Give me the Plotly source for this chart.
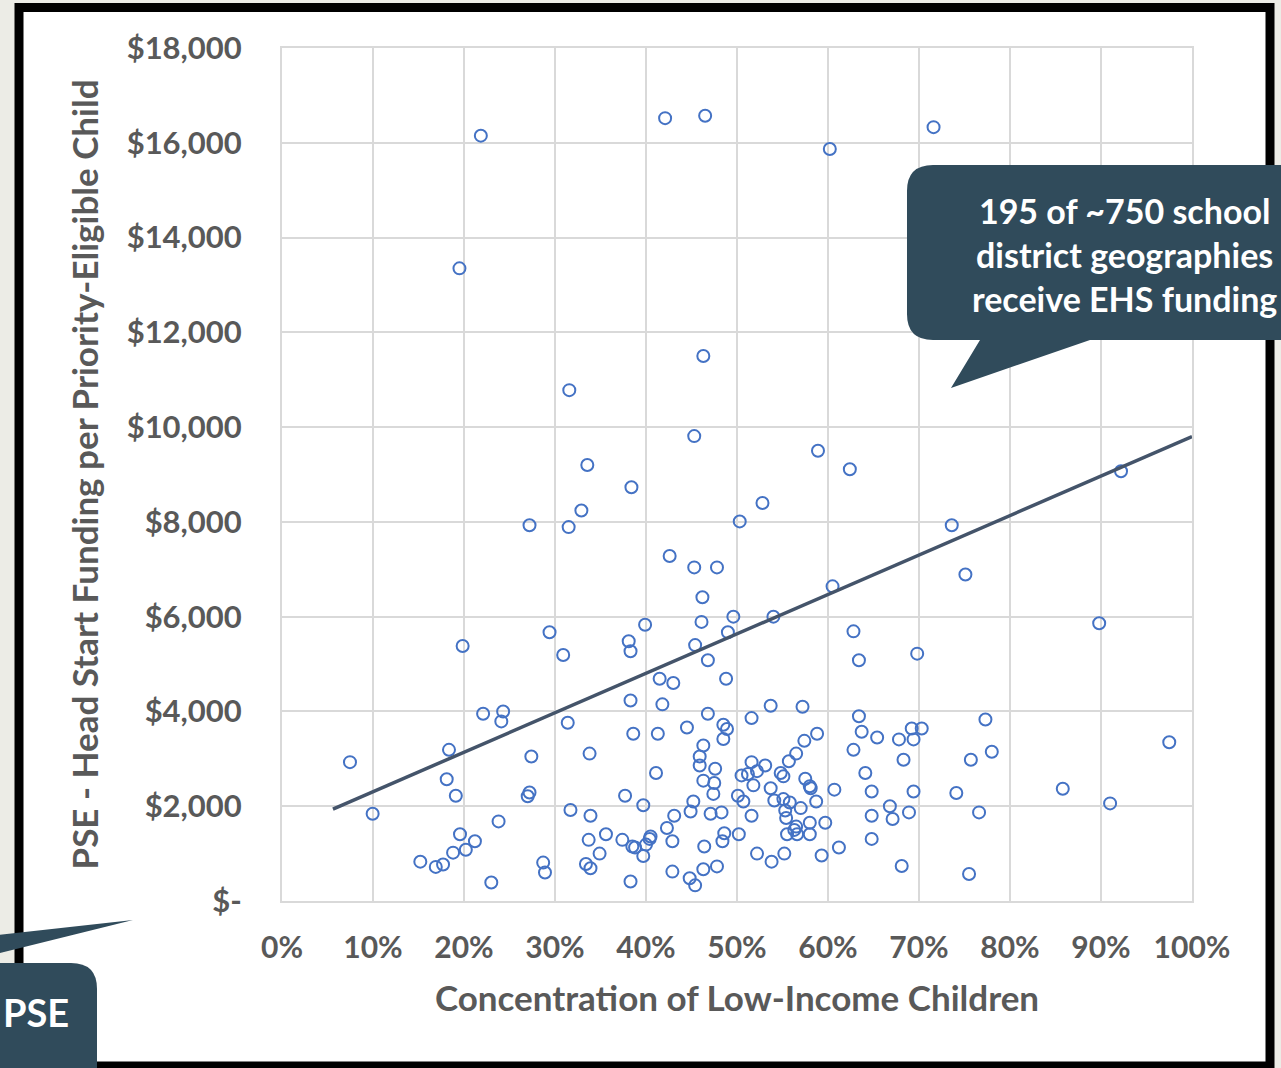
import plotly.graph_objects as go

# Share of low-income children in each school district geography (fraction)
low_income_share = [
    0.2185, 0.421, 0.465, 0.602, 0.716, 0.195, 0.463,
    0.3157, 0.453, 0.3355, 0.384, 0.329, 0.272, 0.315, 0.426, 0.453, 0.478, 0.462, 0.503,
    0.589, 0.624, 0.528, 0.736, 0.751, 0.605, 0.922,
    0.1985, 0.221, 0.243, 0.241, 0.0747, 0.1835, 0.181, 0.191, 0.0996, 0.238,
    0.1956, 0.212, 0.188, 0.202, 0.152, 0.169, 0.177, 0.230,
    0.294, 0.309, 0.381, 0.383, 0.399, 0.415, 0.430, 0.383, 0.418, 0.314,
    0.386, 0.413, 0.445, 0.274, 0.338, 0.411, 0.272, 0.270, 0.377, 0.397,
    0.317, 0.339, 0.356, 0.337, 0.349, 0.334, 0.339, 0.287, 0.289, 0.374,
    0.385, 0.388, 0.400, 0.405, 0.404, 0.397, 0.383, 0.423, 0.431, 0.429,
    0.429, 0.449, 0.452, 0.448, 0.454,
    0.461, 0.496, 0.540, 0.490, 0.454, 0.468, 0.488, 0.628, 0.634, 0.468,
    0.516, 0.537, 0.572, 0.634, 0.485, 0.489, 0.485, 0.463, 0.459, 0.459,
    0.476, 0.463, 0.475, 0.474, 0.471, 0.483, 0.486, 0.484, 0.502, 0.464,
    0.463, 0.478, 0.516, 0.531, 0.505, 0.512, 0.522, 0.518, 0.501, 0.507,
    0.516, 0.522, 0.538, 0.552, 0.537, 0.541, 0.551, 0.558, 0.548, 0.551,
    0.557, 0.565, 0.574, 0.588, 0.553, 0.554, 0.570, 0.555, 0.565, 0.563,
    0.566, 0.580, 0.580, 0.575, 0.580, 0.581, 0.587, 0.597, 0.593, 0.612,
    0.607, 0.628, 0.637, 0.641, 0.648, 0.648, 0.648,
    0.898, 0.698, 0.773, 0.975, 0.692, 0.703, 0.694, 0.678, 0.654, 0.683,
    0.780, 0.757, 0.694, 0.741, 0.858, 0.910, 0.668, 0.671, 0.689, 0.766,
    0.681, 0.755,
]

# Head Start funding per priority-eligible child (PSE), dollars
funding_per_child = [
    16150, 16520, 16570, 15870, 16330, 13350, 11500,
    10780, 9810, 9200, 8730, 8240, 7930, 7890, 7280, 7040, 7040, 6410, 8010,
    9500, 9110, 8400, 7930, 6890, 6640, 9070,
    5380, 3950, 4000, 3790, 2930, 3190, 2570, 2220, 1840, 1680,
    1410, 1260, 1020, 1080, 830, 720, 770, 390,
    5670, 5190, 5480, 5270, 5830, 4690, 4600, 4230, 4150, 3760,
    3530, 3530, 3660, 3050, 3110, 2700, 2290, 2210, 2220, 2020,
    1920, 1800, 1410, 1290, 1000, 780, 690, 810, 600, 1290,
    1150, 1130, 1190, 1360, 1310, 950, 410, 1540, 1800, 1260,
    620, 1890, 2100, 480, 330,
    5890, 6000, 6000, 5670, 5400, 5080, 4690, 5690, 5080, 3950,
    3860, 4120, 4100, 3900, 3720, 3630, 3420, 3280, 3050, 2860,
    2790, 2540, 2490, 2260, 1840, 1870, 1430, 1260, 1410, 1150,
    670, 730, 2930, 2860, 2650, 2680, 2740, 2440, 2220, 2100,
    1800, 1000, 830, 1000, 2380, 2120, 2150, 2080, 2700, 2630,
    2950, 3110, 3380, 3530, 1910, 1750, 1960, 1410, 1570, 1500,
    1410, 1650, 1410, 2580, 2420, 2380, 2100, 1650, 960, 1130,
    2350, 3190, 3570, 2700, 2310, 1800, 1310,
    5860, 5220, 3830, 3350, 3640, 3640, 3410, 3410, 3450, 2980,
    3150, 2980, 2310, 2280, 2370, 2060, 2000, 1730, 1870, 1870,
    740, 570,
]

# Linear trendline endpoints
trend_share = [0.056, 1.0]
trend_funding = [1940, 9800]

# Axis ticks
y_tick_values = [0, 2000, 4000, 6000, 8000, 10000, 12000, 14000, 16000, 18000]
y_tick_labels = ["$-", "$2,000", "$4,000", "$6,000", "$8,000", "$10,000",
                 "$12,000", "$14,000", "$16,000", "$18,000"]
x_tick_values = [i / 10 for i in range(11)]
x_tick_labels = [f"{i * 10}%" for i in range(11)]

W, H = 1281, 1068
M_L, M_R, M_T, M_B = 282, 89, 48, 167
PW, PH = W - M_L - M_R, H - M_T - M_B

FONT = "Lato"
GREY = "#595959"
GRID = "#D9D9D9"
CALLOUT = "#304B5B"


def px(x):
    """Horizontal pixel -> paper fraction."""
    return (x - M_L) / PW


def py(y):
    """Vertical pixel (from top) -> paper fraction."""
    return (H - M_B - y) / PH


def path(points, close=True):
    parts = []
    for i, p in enumerate(points):
        if p[0] == "Q":
            _, (cx, cy), (ex, ey) = p
            parts.append(f"Q{px(cx):.5f},{py(cy):.5f} {px(ex):.5f},{py(ey):.5f}")
        else:
            cmd = "M" if i == 0 else "L"
            parts.append(f"{cmd}{px(p[0]):.5f},{py(p[1]):.5f}")
    return " ".join(parts) + (" Z" if close else "")


fig = go.Figure()

fig.add_trace(go.Scatter(
    x=low_income_share, y=funding_per_child, mode="markers",
    marker=dict(symbol="circle-open", size=12, color="#4472C4",
                line=dict(width=2, color="#4472C4")),
    showlegend=False, hoverinfo="skip",
))

fig.add_trace(go.Scatter(
    x=trend_share, y=trend_funding, mode="lines",
    line=dict(color="#44546A", width=3.5),
    showlegend=False, hoverinfo="skip",
))

shapes = []
# white card with black frame
shapes.append(dict(type="rect", xref="paper", yref="paper",
                   x0=px(19), x1=px(1270), y0=py(1066), y1=py(7.5),
                   line=dict(color="black", width=9), fillcolor="white",
                   layer="below"))

# callout (upper right)
r = 26
bx0, by0, bx1, by1 = 907, 165, 1320, 340
shapes.append(dict(type="path", xref="paper", yref="paper", layer="above",
                   fillcolor=CALLOUT, line=dict(width=0),
                   path=path([
                       (bx0 + r, by0), (bx1, by0), (bx1, by1),
                       (1090, by1), (951, 388), (980, by1),
                       (bx0 + r, by1), ("Q", (bx0, by1), (bx0, by1 - r)),
                       (bx0, by0 + r), ("Q", (bx0, by0), (bx0 + r, by0)),
                   ])))

# callout (lower left)
cx0, cy0, cx1, cy1 = -60, 963, 97, 1120
shapes.append(dict(type="path", xref="paper", yref="paper", layer="above",
                   fillcolor=CALLOUT, line=dict(width=0),
                   path=path([
                       (cx0, cy0), (cx1 - r, cy0), ("Q", (cx1, cy0), (cx1, cy0 + r)),
                       (cx1, cy1), (cx0, cy1),
                   ])))
shapes.append(dict(type="path", xref="paper", yref="paper", layer="above",
                   fillcolor=CALLOUT, line=dict(width=0),
                   path=path([(-100, 946), (133, 920), (-100, 978)])))

annotations = [
    dict(xref="paper", yref="paper", x=px(1124), y=py(254),
         text="195 of ~750 school<br>district geographies<br>receive EHS funding",
         showarrow=False, xanchor="center", yanchor="middle", align="center",
         font=dict(family=FONT, size=34, color="white", weight="bold")),
    dict(xref="paper", yref="paper", x=px(1), y=py(1012),
         text="PSE", showarrow=False, xanchor="left", yanchor="middle",
         font=dict(family=FONT, size=38, color="white", weight="bold")),
]

fig.update_layout(
    width=W, height=H,
    margin=dict(l=M_L, r=M_R, t=M_T, b=M_B, pad=0),
    paper_bgcolor="#ECECE6", plot_bgcolor="white",
    shapes=shapes, annotations=annotations,
    font=dict(family=FONT, color=GREY),
    xaxis=dict(
        range=[0, 1], tickvals=x_tick_values, ticktext=x_tick_labels,
        showgrid=True, gridcolor=GRID, gridwidth=2, zeroline=False,
        showline=True, linecolor=GRID, linewidth=2, mirror=True,
        ticks="", ticklabelstandoff=19,
        tickfont=dict(family=FONT, size=30, color=GREY, weight="bold"),
        title=dict(text="Concentration of Low-Income Children", standoff=23,
                   font=dict(family=FONT, size=35, color=GREY, weight="bold")),
    ),
    yaxis=dict(
        range=[0, 18000], tickvals=y_tick_values, ticktext=y_tick_labels,
        showgrid=True, gridcolor=GRID, gridwidth=2, zeroline=False,
        showline=True, linecolor=GRID, linewidth=2, mirror=True,
        ticks="", ticklabelstandoff=32,
        tickfont=dict(family=FONT, size=31, color=GREY, weight="bold"),
        title=dict(text="PSE - Head Start Funding per Priority-Eligible Child",
                   standoff=17,
                   font=dict(family=FONT, size=35, color=GREY, weight="bold")),
    ),
)

fig.write_html("out.html")
